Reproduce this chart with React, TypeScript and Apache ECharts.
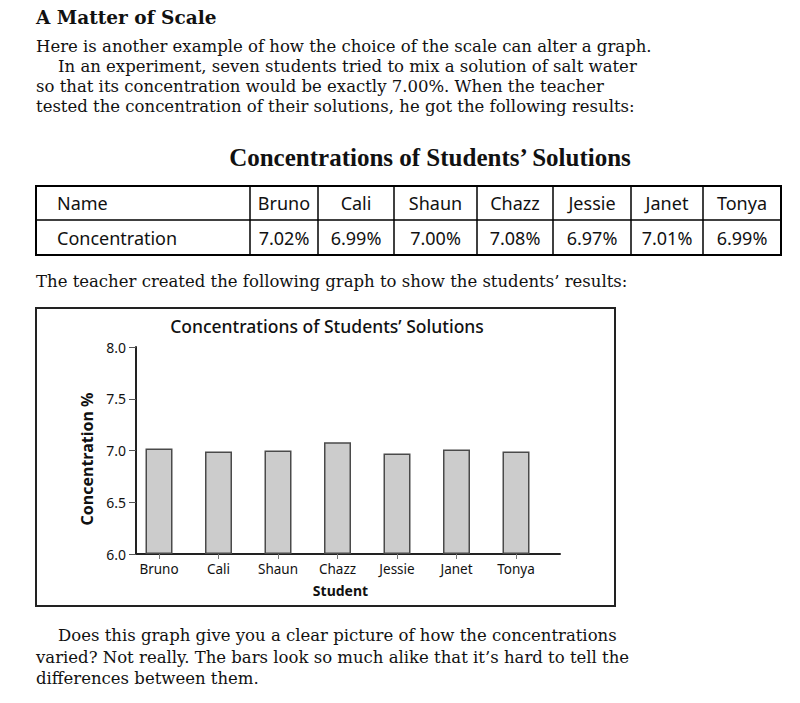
import React, { useEffect, useRef } from "react";
import * as echarts from "echarts";

const headingText = "A Matter of Scale";
const introLines = [
  "Here is another example of how the choice of the scale can alter a graph.",
  "In an experiment, seven students tried to mix a solution of salt water",
  "so that its concentration would be exactly 7.00%. When the teacher",
  "tested the concentration of their solutions, he got the following results:",
];
const tableTitle = "Concentrations of Students\u2019 Solutions";
const rowHeaders = ["Name", "Concentration"];
const students = ["Bruno", "Cali", "Shaun", "Chazz", "Jessie", "Janet", "Tonya"];
const concentrations = [7.02, 6.99, 7.0, 7.08, 6.97, 7.01, 6.99];
const middleLine = "The teacher created the following graph to show the students\u2019 results:";
const chartTitle = "Concentrations of Students\u2019 Solutions";
const yAxisTitle = "Concentration %";
const xAxisTitle = "Student";
const yMin = 6;
const yMax = 8;
const yStep = 0.5;
const closingLines = [
  "Does this graph give you a clear picture of how the concentrations",
  "varied? Not really. The bars look so much alike that it\u2019s hard to tell the",
  "differences between them.",
];

const SERIF = "'Liberation Serif', 'DejaVu Serif', serif";
const BODY = "'DejaVu Serif', 'Liberation Serif', serif";
const SANS = "'Noto Sans', 'Open Sans', sans-serif";
const INK = "#111";

export default function App() {
  const ref = useRef<HTMLDivElement>(null);
  useEffect(() => {
    if (!ref.current) return;
    const chart = echarts.init(ref.current, null, { renderer: "svg" });

    const graphic: any[] = [];
    const txt = (
      text: string,
      x: number,
      y: number,
      font: string,
      align = "left",
      fill = INK,
      rotation = 0
    ) =>
      graphic.push({
        type: "text",
        x,
        y,
        rotation,
        silent: true,
        style: { text, font, fill, align, verticalAlign: "middle" },
      });

    // heading & intro
    txt(headingText, 36, 17, `bold 18.5px 'DejaVu Serif', serif`);
    introLines.forEach((l, i) => txt(l, i === 1 ? 58 : 36, 46.8 + i * 20, `16.5px ${BODY}`));

    // table
    txt(tableTitle, 430, 157.5, `bold 25px ${SERIF}`, "center");
    const colEdges = [36, 250, 318, 394, 477, 553, 631, 703, 781];
    const rowEdges = [186, 220, 255];
    graphic.push({
      type: "rect",
      shape: {
        x: colEdges[0],
        y: rowEdges[0],
        width: colEdges[8] - colEdges[0],
        height: rowEdges[2] - rowEdges[0],
      },
      style: { fill: "none", stroke: "#000", lineWidth: 2 },
    });
    graphic.push({
      type: "line",
      shape: { x1: colEdges[0], y1: rowEdges[1], x2: colEdges[8], y2: rowEdges[1] },
      style: { stroke: "#000", lineWidth: 1.5 },
    });
    for (let c = 1; c < colEdges.length - 1; c++) {
      graphic.push({
        type: "line",
        shape: { x1: colEdges[c], y1: rowEdges[0], x2: colEdges[c], y2: rowEdges[2] },
        style: { stroke: "#000", lineWidth: 1.5 },
      });
    }
    rowHeaders.forEach((h, r) => txt(h, 57, (rowEdges[r] + rowEdges[r + 1]) / 2, `18px ${SANS}`));
    students.forEach((s, i) => {
      const cx = (colEdges[i + 1] + colEdges[i + 2]) / 2;
      txt(s, cx, (rowEdges[0] + rowEdges[1]) / 2, `18px ${SANS}`, "center");
      txt(
        concentrations[i].toFixed(2) + "%",
        cx,
        (rowEdges[1] + rowEdges[2]) / 2,
        `18px ${SANS}`,
        "center"
      );
    });

    txt(middleLine, 36, 281, `16.5px ${BODY}`);

    // chart frame
    graphic.push({
      type: "rect",
      shape: { x: 36, y: 308, width: 579, height: 298 },
      style: { fill: "none", stroke: "#222", lineWidth: 2 },
    });
    txt(chartTitle, 327, 326, `500 17.5px ${SANS}`, "center");
    txt(xAxisTitle, 340.5, 590.5, `bold 14px ${SANS}`, "center");
    txt(yAxisTitle, 87, 459, `bold 16px ${SANS}`, "center", INK, Math.PI / 2);

    closingLines.forEach((l, i) => txt(l, i === 0 ? 58 : 36, 635.5 + i * 21.5, `16.5px ${BODY}`));

    const gridTop = 347;
    const gridH = 207;
    chart.setOption({
      animation: false,
      grid: [
        { left: 136, top: gridTop, width: 424, height: gridH },
        { left: 129.25, top: gridTop, width: 416.5, height: gridH },
      ],
      xAxis: [
        {
          gridIndex: 0,
          type: "value",
          min: 0,
          max: 1,
          axisLine: { show: true, lineStyle: { color: "#222", width: 2 } },
          axisTick: { show: false },
          axisLabel: { show: false },
          splitLine: { show: false },
        },
        {
          gridIndex: 1,
          type: "category",
          data: students,
          axisLine: { show: false },
          axisTick: {
            show: true,
            alignWithLabel: true,
            length: 5,
            lineStyle: { color: "#777", width: 1 },
          },
          axisLabel: { margin: 8, color: INK, fontFamily: SANS, fontSize: 13.5 },
        },
      ],
      yAxis: [
        {
          gridIndex: 0,
          type: "value",
          min: yMin,
          max: yMax,
          interval: yStep,
          axisLine: { show: true, lineStyle: { color: "#222", width: 2 } },
          axisTick: { show: true, length: 7, lineStyle: { color: "#555", width: 1 } },
          axisLabel: {
            margin: 10,
            color: INK,
            fontFamily: SANS,
            fontSize: 14,
            formatter: (v: number) => v.toFixed(1),
          },
          splitLine: { show: false },
        },
        {
          gridIndex: 1,
          type: "value",
          min: yMin,
          max: yMax,
          interval: yStep,
          startValue: yMin,
          show: false,
          splitLine: { show: false },
        },
      ],
      series: [
        {
          type: "bar",
          xAxisIndex: 1,
          yAxisIndex: 1,
          data: concentrations,
          barWidth: 27,
          clip: true,
          itemStyle: { color: "#cccccc", borderColor: "#4a4a4a", borderWidth: 1.5 },
        },
      ],
      graphic,
    });
    return () => chart.dispose();
  }, []);
  return (
    <div
      ref={ref}
      style={{ position: "absolute", left: 0, top: 0, width: 800, height: 703, background: "#fff" }}
    />
  );
}
